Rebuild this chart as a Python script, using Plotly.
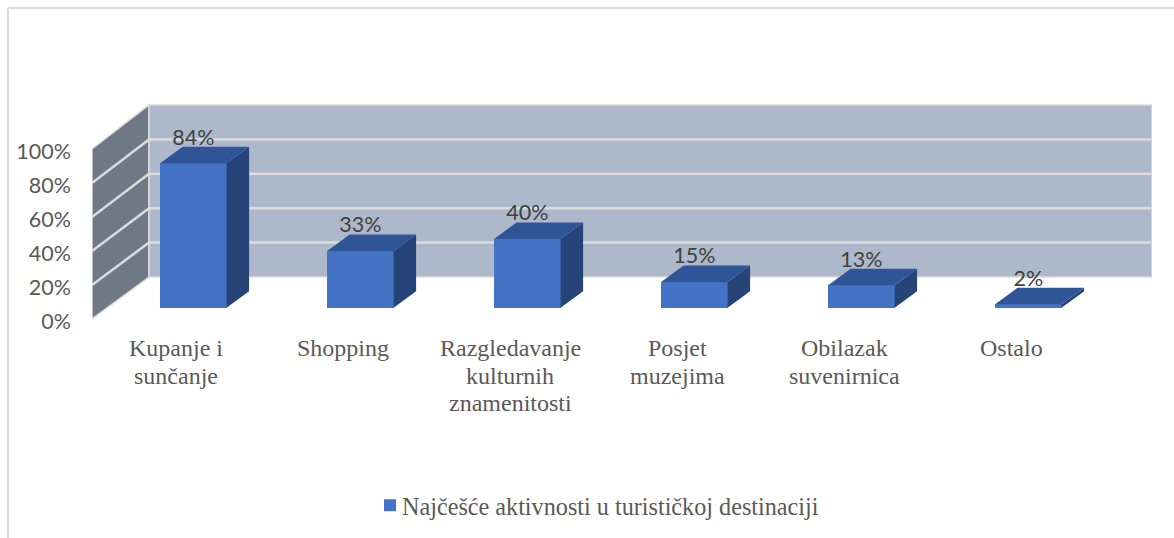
import plotly.graph_objects as go

categories = [["Kupanje i", "sunčanje"], ["Shopping"], ["Razgledavanje", "kulturnih", "znamenitosti"],
              ["Posjet", "muzejima"], ["Obilazak", "suvenirnica"], ["Ostalo"]]
values = [84, 33, 40, 15, 13, 2]
value_labels = ["84%", "33%", "40%", "15%", "13%", "2%"]
axis_ticks = [0, 20, 40, 60, 80, 100]
axis_tick_labels = ["0%", "20%", "40%", "60%", "80%", "100%"]
series_name = "Najčešće aktivnosti u turističkoj destinaciji"

WIDTH, HEIGHT = 1174, 538
ML, MR, MT, MB = 92, 22, 100, 213
PX_X = 167.0       # px per category
PX_Y_MARK = 1.72   # px per percent, marks
PX_Y_AXIS = 1.70   # px per percent, front edge of the wall
plot_h = HEIGHT - MT - MB
plot_w = WIDTH - ML - MR
PLOT_BOTTOM = HEIGHT - MB

X0 = -(176 - ML) / PX_X
X1 = X0 + plot_w / PX_X
BAR_BASE_PX = 307.7
WALL_FRONT_PX = 319
TICK_ZERO_PX = 321
Y2_0 = -(PLOT_BOTTOM - BAR_BASE_PX) / PX_Y_MARK
Y2_1 = Y2_0 + plot_h / PX_Y_MARK
Y1_0 = -(PLOT_BOTTOM - TICK_ZERO_PX) / PX_Y_AXIS
Y1_1 = Y1_0 + plot_h / PX_Y_AXIS

BAR_OFFSET = 0.104
BAR_W = 0.398
DEPTH_X = 22.5 / PX_X
DEPTH_Y = 16.5 / PX_Y_MARK
BACK_X = X0 + 57 / PX_X
BACK_FLOOR = 30.7 / PX_Y_MARK
LABEL_SHIFT = 13.9
LABEL_TOP_PX = 348
LABEL_LINE_PX = 27.5

FRONT = "#4472c4"
TOP = "#2f5597"
SIDE = "#264478"
BACK_WALL = "#adb9ca"
LEFT_WALL = "#6f7986"
GRID = "#dcdcdc"
TEXT = "#595959"
SANS = "Lato"
SERIF = "Liberation Serif"


def front_wall_y(v):
    return (BAR_BASE_PX - WALL_FRONT_PX + v * PX_Y_AXIS) / PX_Y_MARK


def back_wall_y(v):
    return BACK_FLOOR + v


px = lambda p: (p - ML) / plot_w
py = lambda p: (PLOT_BOTTOM - p) / plot_h

xs = [i + BAR_OFFSET for i in range(len(values))]
fig = go.Figure()

# invisible anchor so the percent axis is kept
fig.add_trace(go.Scatter(x=[X0] * len(axis_ticks), y=axis_ticks, yaxis="y", mode="markers",
                         marker=dict(opacity=0), showlegend=False, hoverinfo="skip"))

fig.add_trace(go.Bar(x=xs, y=values, width=BAR_W, yaxis="y2", name=series_name,
                     marker=dict(color=FRONT, line=dict(width=0)), showlegend=True))

top_x, top_y, side_x, side_y = [], [], [], []
for x, v in zip(xs, values):
    l, r = x - BAR_W / 2, x + BAR_W / 2
    top_x += [l, r, r + DEPTH_X, l + DEPTH_X, l, None]
    top_y += [v, v, v + DEPTH_Y, v + DEPTH_Y, v, None]
    side_x += [r, r + DEPTH_X, r + DEPTH_X, r, r, None]
    side_y += [0, DEPTH_Y, v + DEPTH_Y, v, 0, None]

fig.add_trace(go.Scatter(x=side_x, y=side_y, yaxis="y2", mode="lines", fill="toself", fillcolor=SIDE,
                         line=dict(width=0), showlegend=False, hoverinfo="skip"))
fig.add_trace(go.Scatter(x=top_x, y=top_y, yaxis="y2", mode="lines", fill="toself", fillcolor=TOP,
                         line=dict(width=0), showlegend=False, hoverinfo="skip"))
fig.add_trace(go.Scatter(x=xs, y=[v + LABEL_SHIFT for v in values], yaxis="y2", mode="text",
                         text=value_labels, textposition="middle center",
                         textfont=dict(family=SANS, size=21.5, color="#404040"),
                         showlegend=False, hoverinfo="skip"))

shapes = [
    dict(type="path", xref="x", yref="y2", layer="below",
         path=f"M{X0},{front_wall_y(0)} L{BACK_X},{back_wall_y(0)} L{BACK_X},{back_wall_y(100)} "
              f"L{X0},{front_wall_y(100)} Z",
         fillcolor=LEFT_WALL, line=dict(color=GRID, width=1.5)),
    dict(type="rect", xref="x", yref="y2", layer="below",
         x0=BACK_X, x1=X1, y0=back_wall_y(0), y1=back_wall_y(100),
         fillcolor=BACK_WALL, line=dict(color=GRID, width=1.5)),
]
for t in axis_ticks[1:-1]:
    shapes.append(dict(type="line", xref="x", yref="y2", layer="below", x0=X0, x1=BACK_X,
                       y0=front_wall_y(t), y1=back_wall_y(t), line=dict(color=GRID, width=2.5)))
    shapes.append(dict(type="line", xref="x", yref="y2", layer="below", x0=BACK_X, x1=X1,
                       y0=back_wall_y(t), y1=back_wall_y(t), line=dict(color=GRID, width=2.5)))

# outer chart-area frame (top and left edges)
shapes.append(dict(type="line", xref="paper", yref="paper", x0=px(8), x1=px(1174), y0=py(8), y1=py(8),
                   line=dict(color=GRID, width=2)))
shapes.append(dict(type="line", xref="paper", yref="paper", x0=px(8), x1=px(8), y0=py(8), y1=py(538),
                   line=dict(color=GRID, width=2)))

# category labels, line by line (the reference's line spacing is tighter than Plotly's fixed one)
annotations = []
for i, lines in enumerate(categories):
    for j, line in enumerate(lines):
        annotations.append(dict(x=i, xref="x", y=py(LABEL_TOP_PX + j * LABEL_LINE_PX), yref="paper",
                                text=line, showarrow=False, xanchor="center", yanchor="middle",
                                font=dict(family=SERIF, size=24, color=TEXT)))

fig.update_layout(
    width=WIDTH, height=HEIGHT,
    margin=dict(l=ML, r=MR, t=MT, b=MB, pad=0, autoexpand=False),
    paper_bgcolor="white", plot_bgcolor="rgba(0,0,0,0)",
    shapes=shapes,
    annotations=annotations,
    bargap=0,
    hovermode=False,
    xaxis=dict(range=[X0, X1], tickmode="array", tickvals=list(range(len(categories))),
               showticklabels=False, showgrid=False, zeroline=False, showline=False, ticks=""),
    yaxis=dict(range=[Y1_0, Y1_1], tickmode="array", tickvals=axis_ticks,
               ticktext=axis_tick_labels,
               showgrid=False, zeroline=False, showline=False, ticks="",
               ticklabelstandoff=20,
               tickfont=dict(family=SANS, size=21.5, color=TEXT)),
    yaxis2=dict(range=[Y2_0, Y2_1], overlaying="y", side="left", visible=False, showgrid=False, zeroline=False),
    legend=dict(orientation="h", x=px(362), xanchor="left", y=py(483), yanchor="top",
                bgcolor="rgba(0,0,0,0)",
                font=dict(family=SERIF, size=24.2, color=TEXT)),
)

fig.write_html(
    "out.html",
    config=dict(displayModeBar=False),
    post_script=(
        "document.body.style.margin='0';document.body.style.overflow='hidden';"
        "document.querySelectorAll('.legendsymbols').forEach(function(g){g.setAttribute('transform','translate(8,0)');});"
    ),
)
